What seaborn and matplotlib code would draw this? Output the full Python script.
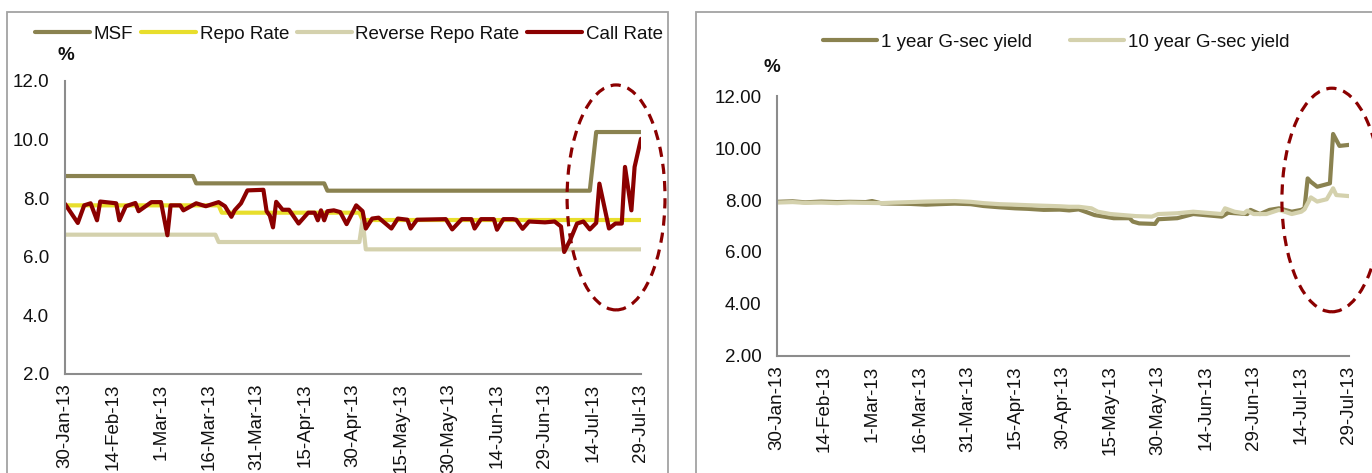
import matplotlib
matplotlib.use("Agg")
import matplotlib.pyplot as plt
import matplotlib.dates as mdates
from matplotlib.lines import Line2D
from matplotlib.patches import Ellipse, Rectangle
import numpy as np
import pandas as pd
import seaborn as sns

# ---------------- data ----------------
msf_dates = ["2013-01-30", "2013-03-11", "2013-03-12", "2013-04-21", "2013-04-22",
             "2013-07-13", "2013-07-15", "2013-07-29"]
msf_values = [8.75, 8.75, 8.50, 8.50, 8.25, 8.25, 10.25, 10.25]

repo_dates = ["2013-01-30", "2013-03-19", "2013-03-20", "2013-05-02", "2013-05-03", "2013-07-29"]
repo_values = [7.75, 7.75, 7.50, 7.50, 7.25, 7.25]

rev_repo_dates = ["2013-01-30", "2013-03-18", "2013-03-19", "2013-05-02", "2013-05-03",
                  "2013-05-04", "2013-07-29"]
rev_repo_values = [6.75, 6.75, 6.50, 6.50, 7.25, 6.25, 6.25]

call_dates = ["2013-01-30", "2013-02-03", "2013-02-05", "2013-02-07", "2013-02-09", "2013-02-10",
              "2013-02-15", "2013-02-16", "2013-02-18", "2013-02-21", "2013-02-22", "2013-02-26",
              "2013-03-01", "2013-03-03", "2013-03-04", "2013-03-07", "2013-03-08", "2013-03-12",
              "2013-03-15", "2013-03-19", "2013-03-21", "2013-03-23", "2013-03-24", "2013-03-26",
              "2013-03-28", "2013-04-02", "2013-04-03", "2013-04-04", "2013-04-05", "2013-04-06",
              "2013-04-08", "2013-04-10", "2013-04-13", "2013-04-16", "2013-04-18", "2013-04-19",
              "2013-04-20", "2013-04-21", "2013-04-22", "2013-04-24", "2013-04-26", "2013-04-28",
              "2013-05-01", "2013-05-03", "2013-05-04", "2013-05-06", "2013-05-08", "2013-05-12",
              "2013-05-14", "2013-05-17", "2013-05-18", "2013-05-20", "2013-05-29", "2013-05-31",
              "2013-06-03", "2013-06-06", "2013-06-07", "2013-06-09", "2013-06-13", "2013-06-14",
              "2013-06-16", "2013-06-19", "2013-06-20", "2013-06-22", "2013-06-24", "2013-06-29",
              "2013-07-02", "2013-07-04", "2013-07-05", "2013-07-07", "2013-07-09", "2013-07-11",
              "2013-07-13", "2013-07-15", "2013-07-16", "2013-07-19", "2013-07-21", "2013-07-23",
              "2013-07-24", "2013-07-26", "2013-07-27", "2013-07-29"]
call_values = [7.80, 7.15, 7.75, 7.82, 7.24, 7.88,
               7.82, 7.24, 7.72, 7.83, 7.55, 7.86,
               7.86, 6.73, 7.75, 7.75, 7.58, 7.82,
               7.72, 7.86, 7.72, 7.36, 7.58, 7.82,
               8.26, 8.28, 7.55, 7.40, 7.00, 7.87,
               7.60, 7.60, 7.13, 7.50, 7.50, 7.24,
               7.58, 7.24, 7.55, 7.58, 7.52, 7.11,
               7.75, 7.55, 6.96, 7.30, 7.33, 6.96,
               7.30, 7.26, 6.96, 7.26, 7.28, 6.93,
               7.28, 7.28, 6.96, 7.28, 7.28, 6.92,
               7.28, 7.28, 7.26, 6.95, 7.20, 7.17,
               7.20, 7.03, 6.16, 6.60, 7.13, 7.20,
               6.93, 7.15, 8.49, 6.96, 7.13, 7.13,
               9.06, 7.58, 9.06, 10.02]

gsec1_dates = ["2013-01-30", "2013-02-04", "2013-02-08", "2013-02-13", "2013-02-18", "2013-02-22",
               "2013-02-27", "2013-03-01", "2013-03-04", "2013-03-08", "2013-03-13", "2013-03-18",
               "2013-03-22", "2013-03-27", "2013-04-01", "2013-04-05", "2013-04-10", "2013-04-15",
               "2013-04-19", "2013-04-24", "2013-04-29", "2013-05-02", "2013-05-05", "2013-05-10",
               "2013-05-16", "2013-05-21", "2013-05-22", "2013-05-24", "2013-05-29", "2013-05-30",
               "2013-06-05", "2013-06-10", "2013-06-19", "2013-06-21", "2013-06-27", "2013-06-28",
               "2013-07-01", "2013-07-04", "2013-07-07", "2013-07-11", "2013-07-14", "2013-07-15",
               "2013-07-16", "2013-07-17", "2013-07-19", "2013-07-23", "2013-07-24", "2013-07-26",
               "2013-07-29"]
gsec1_values = [7.93, 7.95, 7.91, 7.94, 7.92, 7.93,
                7.92, 7.96, 7.87, 7.86, 7.85, 7.82,
                7.84, 7.86, 7.84, 7.77, 7.72, 7.68,
                7.66, 7.62, 7.63, 7.60, 7.64, 7.42,
                7.30, 7.30, 7.17, 7.10, 7.08, 7.26,
                7.30, 7.46, 7.36, 7.51, 7.46, 7.62,
                7.46, 7.62, 7.68, 7.55, 7.62, 7.68,
                8.83, 8.70, 8.51, 8.64, 10.54, 10.08,
                10.12]

gsec10_dates = ["2013-01-30", "2013-02-04", "2013-02-08", "2013-02-13", "2013-02-18", "2013-02-22",
                "2013-02-27", "2013-03-04", "2013-03-08", "2013-03-13", "2013-03-18", "2013-03-22",
                "2013-03-27", "2013-04-01", "2013-04-05", "2013-04-10", "2013-04-15", "2013-04-19",
                "2013-04-24", "2013-04-29", "2013-05-02", "2013-05-05", "2013-05-09", "2013-05-11",
                "2013-05-15", "2013-05-23", "2013-05-28", "2013-05-30", "2013-06-05", "2013-06-10",
                "2013-06-19", "2013-06-20", "2013-06-23", "2013-06-26", "2013-06-27", "2013-06-29",
                "2013-07-03", "2013-07-07", "2013-07-11", "2013-07-14", "2013-07-15", "2013-07-17",
                "2013-07-19", "2013-07-22", "2013-07-24", "2013-07-25", "2013-07-29"]
gsec10_values = [7.90, 7.92, 7.89, 7.90, 7.88, 7.90,
                 7.89, 7.88, 7.90, 7.92, 7.94, 7.95,
                 7.96, 7.93, 7.88, 7.84, 7.82, 7.80,
                 7.78, 7.76, 7.74, 7.74, 7.68, 7.55,
                 7.46, 7.38, 7.36, 7.46, 7.49, 7.55,
                 7.46, 7.68, 7.55, 7.49, 7.59, 7.46,
                 7.46, 7.62, 7.46, 7.55, 7.64, 8.10,
                 7.94, 8.03, 8.45, 8.19, 8.15]

tick_dates = ["2013-01-30", "2013-02-14", "2013-03-01", "2013-03-16", "2013-03-31", "2013-04-15",
              "2013-04-30", "2013-05-15", "2013-05-30", "2013-06-14", "2013-06-29", "2013-07-14",
              "2013-07-29"]
tick_labels = ["30-Jan-13", "14-Feb-13", "1-Mar-13", "16-Mar-13", "31-Mar-13", "15-Apr-13",
               "30-Apr-13", "15-May-13", "30-May-13", "14-Jun-13", "29-Jun-13", "14-Jul-13",
               "29-Jul-13"]

left_series = ["MSF", "Repo Rate", "Reverse Repo Rate", "Call Rate"]
right_series = ["1 year G-sec yield", "10 year G-sec yield"]

colors = {
    "MSF": "#8A8250",
    "Repo Rate": "#E8DE2C",
    "Reverse Repo Rate": "#D4D1AD",
    "Call Rate": "#8B0000",
    "1 year G-sec yield": "#8A8250",
    "10 year G-sec yield": "#D4D1AD",
}


def long_frame(pairs):
    parts = []
    for name, dates, vals in pairs:
        parts.append(pd.DataFrame({"date": pd.to_datetime(dates), "value": vals, "series": name}))
    return pd.concat(parts, ignore_index=True)


left_df = long_frame([
    ("MSF", msf_dates, msf_values),
    ("Repo Rate", repo_dates, repo_values),
    ("Reverse Repo Rate", rev_repo_dates, rev_repo_values),
    ("Call Rate", call_dates, call_values),
])
right_df = long_frame([
    ("1 year G-sec yield", gsec1_dates, gsec1_values),
    ("10 year G-sec yield", gsec10_dates, gsec10_values),
])

# ---------------- figure ----------------
sns.set_style("white")
plt.rcParams["font.family"] = ["Liberation Sans", "DejaVu Sans"]
plt.rcParams["text.color"] = "#111111"

W, H = 1372, 473
fig = plt.figure(figsize=(W / 100, H / 100), dpi=100)

ax1 = fig.add_axes([65 / W, 1 - 374 / H, (641 - 65) / W, (374 - 80.7) / H])
ax2 = fig.add_axes([776.7 / W, 1 - 356 / H, (1349 - 776.7) / W, (356 - 96) / H])

line_kw = dict(estimator=None, sort=False, legend=False, linewidth=3.0,
               solid_joinstyle="round", solid_capstyle="round")

sns.lineplot(data=left_df, x="date", y="value", hue="series", hue_order=left_series,
             palette=colors, ax=ax1, **line_kw)
sns.lineplot(data=right_df, x="date", y="value", hue="series", hue_order=right_series,
             palette=colors, ax=ax2, **line_kw)

x0, x1 = pd.Timestamp("2013-01-30"), pd.Timestamp("2013-07-29")
ticks = pd.to_datetime(tick_dates)
axis_grey = "#8C8C8C"

for ax, fmt, ypad, xpad in [(ax1, "{:.1f}", 7.5, 3), (ax2, "{:.2f}", 7, 3)]:
    ax.set_xlim(x0, x1)
    ax.set_ylim(2, 12)
    yt = np.arange(2, 13, 2)
    ax.set_yticks(yt)
    ax.set_yticklabels([fmt.format(v) for v in yt])
    ax.set_xticks(ticks)
    ax.set_xticklabels(tick_labels, rotation=90, va="top", ha="center")
    ax.set_xlabel("")
    ax.set_ylabel("")
    sns.despine(ax=ax)
    for side in ("left", "bottom"):
        ax.spines[side].set_color(axis_grey)
        ax.spines[side].set_linewidth(1.5)
    ax.tick_params(axis="both", direction="out", length=4, width=1.5, color=axis_grey,
                   labelsize=13.5, labelcolor="#111111")
    ax.tick_params(axis="y", pad=ypad)
    ax.tick_params(axis="x", pad=xpad)
    ax.grid(False)

# dashed rings around the July spikes
ring_kw = dict(fill=False, edgecolor="#8B0000", linewidth=2.3, linestyle=(0, (3.2, 2.2)),
               clip_on=False, zorder=5)
c1 = mdates.date2num(pd.Timestamp("2013-07-21")) + 0.2
ax1.add_patch(Ellipse((c1, 8.02), width=30.6, height=7.67, **ring_kw))
c2 = mdates.date2num(pd.Timestamp("2013-07-23")) + 0.6
ax2.add_patch(Ellipse((c2, 8.0), width=31.4, height=8.6, **ring_kw))

# panel frames
frame_kw = dict(transform=fig.transFigure, fill=False, edgecolor="#A3A3A3", linewidth=1.3)
fig.add_artist(Rectangle((7 / W, -0.1), (668 - 7) / W, (1 - 12 / H) + 0.1, **frame_kw))
fig.add_artist(Rectangle((696 / W, -0.1), 0.6, (1 - 12 / H) + 0.1, **frame_kw))

# unit labels
fig.text(66 / W, 1 - 55 / H, "%", ha="center", va="center", fontsize=13.5, fontweight="bold")
fig.text(771.5 / W, 1 - 67 / H, "%", ha="center", va="center", fontsize=13.5, fontweight="bold")

# legends
def handles(names):
    return [Line2D([0], [0], color=colors[n], linewidth=3.0) for n in names]

leg_kw = dict(loc="center", frameon=False, fontsize=13.5, handlelength=2.93,
              handletextpad=0.19, borderpad=0, borderaxespad=0)
fig.legend(handles(left_series), left_series, bbox_to_anchor=(349 / W, 1 - 34 / H),
           ncol=4, columnspacing=0.42, **leg_kw)
fig.legend(handles(right_series), right_series, bbox_to_anchor=(1056 / W, 1 - 42 / H),
           ncol=2, columnspacing=2.0, **leg_kw)

fig.savefig("out.png", dpi=100)
